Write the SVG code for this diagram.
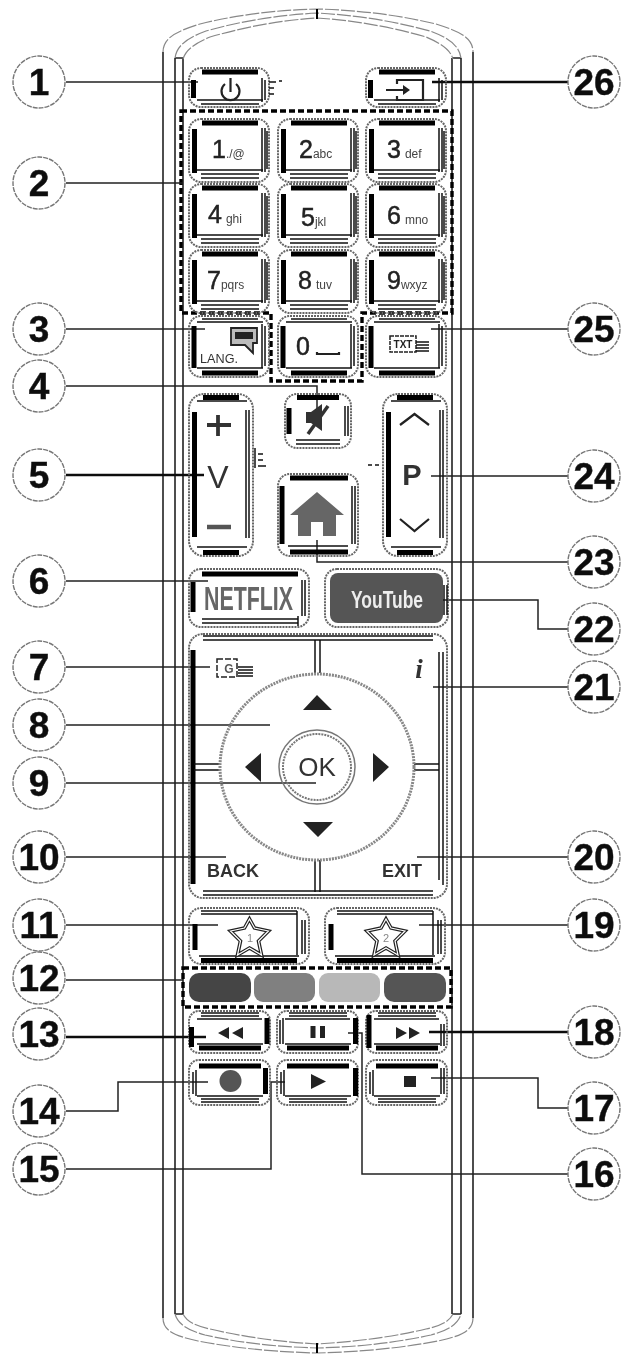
<svg xmlns="http://www.w3.org/2000/svg" xmlns:xlink="http://www.w3.org/1999/xlink" width="634" height="1359" viewBox="0 0 634 1359">
<style>
text{font-family:"Liberation Sans",Arial,sans-serif}
.o{fill:none;stroke:#666;stroke-width:2;stroke-dasharray:2 1}
.k{fill:none;stroke:#000;stroke-width:5}
.n{fill:none;stroke:#111;stroke-width:1.5}
.b{fill:none;stroke:#222;stroke-width:1.6}
.a{fill:none;stroke:#888;stroke-width:1.2;stroke-dasharray:14 2}
.c{fill:none;stroke:#222;stroke-width:1.5}
.cc{stroke-width:2.6;stroke:#111}
.d{fill:none;stroke:#000;stroke-width:3.4;stroke-dasharray:6 3}
.cir{fill:#fff;stroke:#777;stroke-width:1.4;stroke-dasharray:5 1}
.num{font-size:37px;font-weight:700;fill:#111;stroke:#111;stroke-width:.4;text-anchor:middle}
.dg{font-size:25px;fill:#222;stroke:#222;stroke-width:.5}
.sm{font-size:12px;fill:#444;stroke:none}
.ic{fill:#222}
.il{fill:none;stroke:#222;stroke-width:2.2}
</style>
<defs>
<filter id="soft" x="0" y="0" width="100%" height="100%"><feGaussianBlur stdDeviation="0.4"/></filter>
<g id="bA"><rect class="o" width="80" height="63" rx="12"/><path class="k" d="M13 4h56M5.500 10v44"/><path class="n" d="M73 9v44M76 9v44M78 12v38M8 51h66M12 55h58M12 59h58"/></g>
<g id="bB"><rect class="o" width="80" height="39" rx="12"/><path class="k" d="M13 4h56M4.500 12v18" stroke-width="5"/><path class="n" d="M73 10v24M76 12v20M8 32h66M12 36h58"/></g>
<g id="bC"><rect class="o" width="80" height="61" rx="12"/><path class="k" d="M13 57h56M5 10v42"/><path class="n" d="M13 3h56M8 6h66M73 8v44M76 10v40M8 52h66"/></g>
<g id="bD"><rect class="o" width="64" height="162" rx="15"/><path class="k" d="M14 3.500h36M14 158.500h36M5.500 18v125"/><path class="n" d="M57 16v128M60 16v128M8 153h50M8 7h50"/></g>
<g id="bS"><rect class="o" width="120" height="56" rx="12"/><path class="k" d="M12 52.500h96M6 16v26"/><path class="n" d="M12 3h96M12 6h96M113 12v34M116 12v34M108 3v44M10 48h100"/></g>
<g id="bT"><rect class="o" width="81" height="42" rx="10"/><path class="k" d="M10 37h62"/><path class="n" d="M12 2h58M12 5h58M8 8h65M8 33h66"/></g>
<g id="bU"><rect class="o" width="81" height="45" rx="10"/><path class="k" d="M10 6h62"/><path class="n" d="M12 39h58M12 42h58M8 36h66M4 12v22M7 10v26"/></g>
<symbol id="star" overflow="visible"><path d="M0 -18L5 -9L19 -6L9 4L12 18L0 11L-12 18L-9 4L-19 -6L-5 -9Z" fill="none" stroke="#222" stroke-width="3.600"/><path d="M0 -18L5 -9L19 -6L9 4L12 18L0 11L-12 18L-9 4L-19 -6L-5 -9Z" fill="none" stroke="#fff" stroke-width="1.200"/></symbol>
</defs>
<g filter="url(#soft)">
<rect width="634" height="1359" fill="#fff"/>
<g id="body">
<path class="b" d="M163 52V1318M175 58V1314M183 58V1314M175 58H183M452 58V1314M461 58V1314M473 52V1318M452 58H461M175 1314H183M452 1314H461"/>
<path class="a" d="M163 52C163 37 178 31 200 24C240 14 280 10 317 9C354 10 394 14 436 24C458 31 473 37 473 52"/>
<path class="a" d="M175 58C177 44 190 37 206 31C245 20 282 15 317 13C352 15 390 20 430 31C446 37 459 44 461 58"/>
<path class="a" d="M183 59C186 49 196 43 210 37C248 26 284 20 317 18C350 20 388 26 426 37C440 43 450 49 453 59"/>
<path class="a" d="M163 1318C163 1331 175 1336 198 1341C240 1349 280 1352 317 1353C354 1352 396 1349 438 1341C461 1336 473 1331 473 1318"/>
<path class="a" d="M175 1314C178 1325 190 1331 205 1335C245 1344 282 1347 317 1348C352 1347 390 1344 431 1335C446 1331 458 1325 461 1314"/>
<path class="a" d="M183 1314C187 1322 196 1326 210 1329C248 1338 284 1342 317 1344C350 1342 388 1338 426 1329C440 1326 449 1322 453 1314"/>
<path d="M317 9V19M317 1343V1353" stroke="#000" stroke-width="2" fill="none"/>
</g>
<g id="dashed-boxes">
<path class="d" d="M181 111H452V313H362V381H271V313H181Z"/>
<rect class="d" x="183" y="968" width="268" height="39" stroke-width="4"/>
</g>
<g id="connectors">
<path class="c" d="M66 82H198M66 183H183M66 329H205M66 386H317V413M66 581H208M66 667H210M66 725H270M66 783H316M66 857H226M66 925H218M66 980H183M66 1111H118V1082H208M66 1169H271V1082H285"/>
<path class="c cc" d="M66 475H204M66 1037H206M568 82H432M568 1032H429"/>
<path class="c" d="M568 329H431M568 476H431M568 562H317V540M568 629H538V600H429M568 687H433M568 857H417M568 925H419M568 1108H538V1078H431M568 1174H362V1033H348"/>
</g>
<g id="btn-power"><use xlink:href="#bB" x="189" y="68"/><path class="il" d="M225 84A9 9 0 1 0 236 84M230.500 78V92"/><path class="n" d="M269 82h7M269 88h5M269 94h5M279 81h3" stroke-width="1.800"/></g>
<g id="btn-source"><use xlink:href="#bB" x="366" y="68"/><path class="il" d="M397 84V80H423V100H397V96M386 90H404" stroke-width="1.700"/><path class="ic" d="M403 85l7 5-7 5z"/></g>
<g id="btn-1"><use xlink:href="#bA" x="189" y="119"/><text class="dg" x="212" y="158">1<tspan class="sm">./@</tspan></text></g>
<g id="btn-2"><use xlink:href="#bA" x="278" y="119"/><text class="dg" x="299" y="158">2<tspan class="sm">abc</tspan></text></g>
<g id="btn-3"><use xlink:href="#bA" x="366" y="119"/><text class="dg" x="387" y="158">3<tspan class="sm" dx="4">def</tspan></text></g>
<g id="btn-4"><use xlink:href="#bA" x="189" y="184"/><text class="dg" x="208" y="223">4<tspan class="sm" dx="4">ghi</tspan></text></g>
<g id="btn-5"><use xlink:href="#bA" x="278" y="184"/><text class="dg" x="301" y="226">5<tspan class="sm">jkl</tspan></text></g>
<g id="btn-6"><use xlink:href="#bA" x="366" y="184"/><text class="dg" x="387" y="224">6<tspan class="sm" dx="4">mno</tspan></text></g>
<g id="btn-7"><use xlink:href="#bA" x="189" y="250"/><text class="dg" x="207" y="289">7<tspan class="sm">pqrs</tspan></text></g>
<g id="btn-8"><use xlink:href="#bA" x="278" y="250"/><text class="dg" x="298" y="289">8<tspan class="sm" dx="4">tuv</tspan></text></g>
<g id="btn-9"><use xlink:href="#bA" x="366" y="250"/><text class="dg" x="387" y="289">9<tspan class="sm">wxyz</tspan></text></g>
<g id="btn-lang"><use xlink:href="#bC" x="189" y="316"/><path d="M231 328H257V343H253V353L245 345H231Z" fill="#bbb" stroke="#222" stroke-width="1.800"/><rect x="235" y="332" width="18" height="7" fill="#222"/><text x="200" y="363" font-size="12" fill="#333" textLength="38" lengthAdjust="spacingAndGlyphs">LANG.</text></g>
<g id="btn-0"><use xlink:href="#bC" x="278" y="316"/><text class="dg" x="296" y="355">0</text><path class="il" d="M317 352V354H339V352"/></g>
<g id="btn-txt"><use xlink:href="#bC" x="366" y="316"/><rect x="390" y="336" width="26" height="16" fill="none" stroke="#222" stroke-width="1.500" stroke-dasharray="4 1"/><text x="403" y="348" font-size="10" fill="#222" text-anchor="middle" font-weight="700">TXT</text><path class="n" d="M416 342h13M416 345h13M416 348h13M416 351h13" stroke-width="1.700"/></g>
<g id="btn-volume"><use xlink:href="#bD" x="189" y="394"/><path d="M218 415V436M207 425H231" stroke="#333" stroke-width="3.800" fill="none"/><text x="218" y="488" font-size="32" fill="#333" text-anchor="middle">V</text><path d="M207 527H231" stroke="#555" stroke-width="4.500" fill="none"/><path class="n" d="M255 448v20M258 454h5M258 460h5M258 466h8" stroke-width="1.800"/></g>
<g id="btn-mute"><rect class="o" x="285" y="394" width="66" height="54" rx="12"/><path class="k" d="M297 397.500h42M289 408v26"/><path class="n" d="M345 406v30M348 406v30M296 440h44M296 444h44"/><path d="M306 412h5L322 404V431L311 423H306Z" fill="#333"/><path d="M328 406L308 434" stroke="#333" stroke-width="3.500"/></g>
<g id="btn-channel"><use xlink:href="#bD" x="383" y="394"/><path class="il" d="M400 425L414.500 414L429 425M400 519L414.500 531L429 519" stroke-width="2.400"/><text x="412" y="485" font-size="29" font-weight="700" fill="#333" text-anchor="middle">P</text><path class="n" d="M368 465h4M375 465h4" stroke-width="2"/></g>
<g id="btn-home"><rect class="o" x="278" y="474" width="80" height="82" rx="12"/><path class="k" d="M290 478h58M282 486v58M290 552h58"/><path class="n" d="M352 486v58M355 486v58M288 546h60"/><path d="M317 492L344 515H336V536H323V522H311V536H298V515H290Z" fill="#666"/></g>
<g id="btn-netflix"><rect class="o" x="189" y="569" width="120" height="58" rx="12"/><path class="k" d="M202 574H298M193 582v30"/><path class="n" d="M302 580v36M305 580v36M202 619H298M202 623H298M298 616v10"/><text x="204" y="610" font-size="33" font-weight="700" fill="#666" textLength="89" lengthAdjust="spacingAndGlyphs">NETFLIX</text></g>
<g id="btn-youtube"><rect class="o" x="325" y="569" width="123" height="58" rx="12"/><rect x="330" y="573" width="113" height="50" rx="8" fill="#555"/><path class="n" d="M444 585v30M447 585v30"/><text x="351" y="608" font-size="24" font-weight="700" fill="#eee" textLength="72" lengthAdjust="spacingAndGlyphs">YouTube</text></g>
<g id="btn-nav"><rect class="o" x="189" y="634" width="258" height="264" rx="14"/><path class="n" d="M203 636H433M203 640H433M203 895H433M203 891H433M439 652V880M443 652V885"/><path class="k" d="M193 650V884" stroke-width="6"/><path class="n" d="M315 640V673M320 640V673M315 860V892M320 860V892M194 764H220M194 770H220M414 764H439M414 770H439"/>
<ellipse cx="317" cy="767" rx="97" ry="93" fill="none" stroke="#888" stroke-width="3" stroke-dasharray="2 1"/>
<ellipse cx="317" cy="767" rx="38" ry="37" fill="none" stroke="#777" stroke-width="1.500"/><ellipse cx="317" cy="767" rx="34" ry="33" fill="none" stroke="#777" stroke-width="2" stroke-dasharray="2 1"/>
<text x="317" y="776" font-size="26" fill="#333" text-anchor="middle">OK</text>
<path class="ic" d="M317 695L332 710H303ZM303 822H333L318 837ZM245 767L261 753V782ZM373 753L389 767L373 782Z"/>
<rect x="217" y="659" width="20" height="18" fill="none" stroke="#222" stroke-width="1.500" stroke-dasharray="6 2"/><text x="229" y="673" font-size="12" font-weight="700" fill="#555" text-anchor="middle">G</text><path class="n" d="M238 667h15M238 670h15M238 673h15M238 676h15" stroke-width="1.500"/>
<text x="419" y="678" font-size="27" font-weight="700" font-style="italic" fill="#333" text-anchor="middle" style="font-family:'Liberation Serif',serif">i</text>
<text x="207" y="877" font-size="18" font-weight="700" fill="#333">BACK</text><text x="382" y="877" font-size="18" font-weight="700" fill="#333">EXIT</text></g>
<g id="btn-fav1"><use xlink:href="#bS" x="189" y="908"/><use xlink:href="#star" x="249.500" y="937"/><text x="250" y="942" font-size="11" fill="#888" text-anchor="middle">1</text></g>
<g id="btn-fav2"><use xlink:href="#bS" x="325" y="908"/><use xlink:href="#star" x="386" y="937"/><text x="386" y="942" font-size="11" fill="#888" text-anchor="middle">2</text></g>
<g id="btn-colors"><rect x="189" y="973" width="62" height="29" rx="10" fill="#444"/><rect x="254" y="973" width="61" height="29" rx="9" fill="#808080"/><rect x="319" y="973" width="61" height="29" rx="9" fill="#b8b8b8"/><rect x="384" y="973" width="62" height="29" rx="10" fill="#555"/></g>
<g id="btn-rew"><use xlink:href="#bT" x="189" y="1011"/><path class="k" d="M191.500 1027V1047M267 1018V1044" stroke-width="4.500"/><path class="ic" d="M218 1033L229 1027V1039ZM232 1033L243 1027V1039Z"/></g>
<g id="btn-pause"><use xlink:href="#bT" x="277" y="1011"/><path class="k" d="M355.500 1018V1044" stroke-width="4.500"/><path class="n" d="M280 1020V1044M283 1018V1044"/><path class="ic" d="M310.500 1026h5v12h-5zM320 1026h5v12h-5z"/></g>
<g id="btn-ff"><use xlink:href="#bT" x="366" y="1011"/><path class="k" d="M369 1015V1048" stroke-width="4.500"/><path class="n" d="M441 1024V1046M444 1024V1046"/><path class="ic" d="M396 1027L407 1033L396 1039ZM409 1027L420 1033L409 1039Z"/></g>
<g id="btn-rec"><use xlink:href="#bU" x="189" y="1060"/><path class="k" d="M265.500 1068V1094" stroke-width="4.500"/><circle cx="230.500" cy="1081" r="11" fill="#555"/></g>
<g id="btn-play"><use xlink:href="#bU" x="277" y="1060"/><path class="k" d="M355.500 1068V1096" stroke-width="4.500"/><path class="ic" d="M311 1074L326 1081.500L311 1089Z"/></g>
<g id="btn-stop"><use xlink:href="#bU" x="366" y="1060"/><path class="n" d="M441 1068V1094M444 1068V1094"/><rect x="404" y="1076" width="12" height="11" fill="#222"/></g>
<g id="callouts">
<g id="c1"><circle class="cir" cx="39" cy="82" r="26"/><text class="num" x="39" y="95">1</text></g>
<g id="c2"><circle class="cir" cx="39" cy="183" r="26"/><text class="num" x="39" y="196">2</text></g>
<g id="c3"><circle class="cir" cx="39" cy="329" r="26"/><text class="num" x="39" y="342">3</text></g>
<g id="c4"><circle class="cir" cx="39" cy="386" r="26"/><text class="num" x="39" y="399">4</text></g>
<g id="c5"><circle class="cir" cx="39" cy="475" r="26"/><text class="num" x="39" y="488">5</text></g>
<g id="c6"><circle class="cir" cx="39" cy="581" r="26"/><text class="num" x="39" y="594">6</text></g>
<g id="c7"><circle class="cir" cx="39" cy="667" r="26"/><text class="num" x="39" y="680">7</text></g>
<g id="c8"><circle class="cir" cx="39" cy="725" r="26"/><text class="num" x="39" y="738">8</text></g>
<g id="c9"><circle class="cir" cx="39" cy="783" r="26"/><text class="num" x="39" y="796">9</text></g>
<g id="c10"><circle class="cir" cx="39" cy="857" r="26"/><text class="num" x="39" y="870">10</text></g>
<g id="c11"><circle class="cir" cx="39" cy="925" r="26"/><text class="num" x="39" y="938">11</text></g>
<g id="c12"><circle class="cir" cx="39" cy="978" r="26"/><text class="num" x="39" y="991">12</text></g>
<g id="c13"><circle class="cir" cx="39" cy="1034" r="26"/><text class="num" x="39" y="1047">13</text></g>
<g id="c14"><circle class="cir" cx="39" cy="1111" r="26"/><text class="num" x="39" y="1124">14</text></g>
<g id="c15"><circle class="cir" cx="39" cy="1169" r="26"/><text class="num" x="39" y="1182">15</text></g>
<g id="c16"><circle class="cir" cx="594" cy="1174" r="26"/><text class="num" x="594" y="1187">16</text></g>
<g id="c17"><circle class="cir" cx="594" cy="1108" r="26"/><text class="num" x="594" y="1121">17</text></g>
<g id="c18"><circle class="cir" cx="594" cy="1032" r="26"/><text class="num" x="594" y="1045">18</text></g>
<g id="c19"><circle class="cir" cx="594" cy="925" r="26"/><text class="num" x="594" y="938">19</text></g>
<g id="c20"><circle class="cir" cx="594" cy="857" r="26"/><text class="num" x="594" y="870">20</text></g>
<g id="c21"><circle class="cir" cx="594" cy="687" r="26"/><text class="num" x="594" y="700">21</text></g>
<g id="c22"><circle class="cir" cx="594" cy="629" r="26"/><text class="num" x="594" y="642">22</text></g>
<g id="c23"><circle class="cir" cx="594" cy="562" r="26"/><text class="num" x="594" y="575">23</text></g>
<g id="c24"><circle class="cir" cx="594" cy="476" r="26"/><text class="num" x="594" y="489">24</text></g>
<g id="c25"><circle class="cir" cx="594" cy="329" r="26"/><text class="num" x="594" y="342">25</text></g>
<g id="c26"><circle class="cir" cx="594" cy="82" r="26"/><text class="num" x="594" y="95">26</text></g>
</g>
</g>
</svg>
